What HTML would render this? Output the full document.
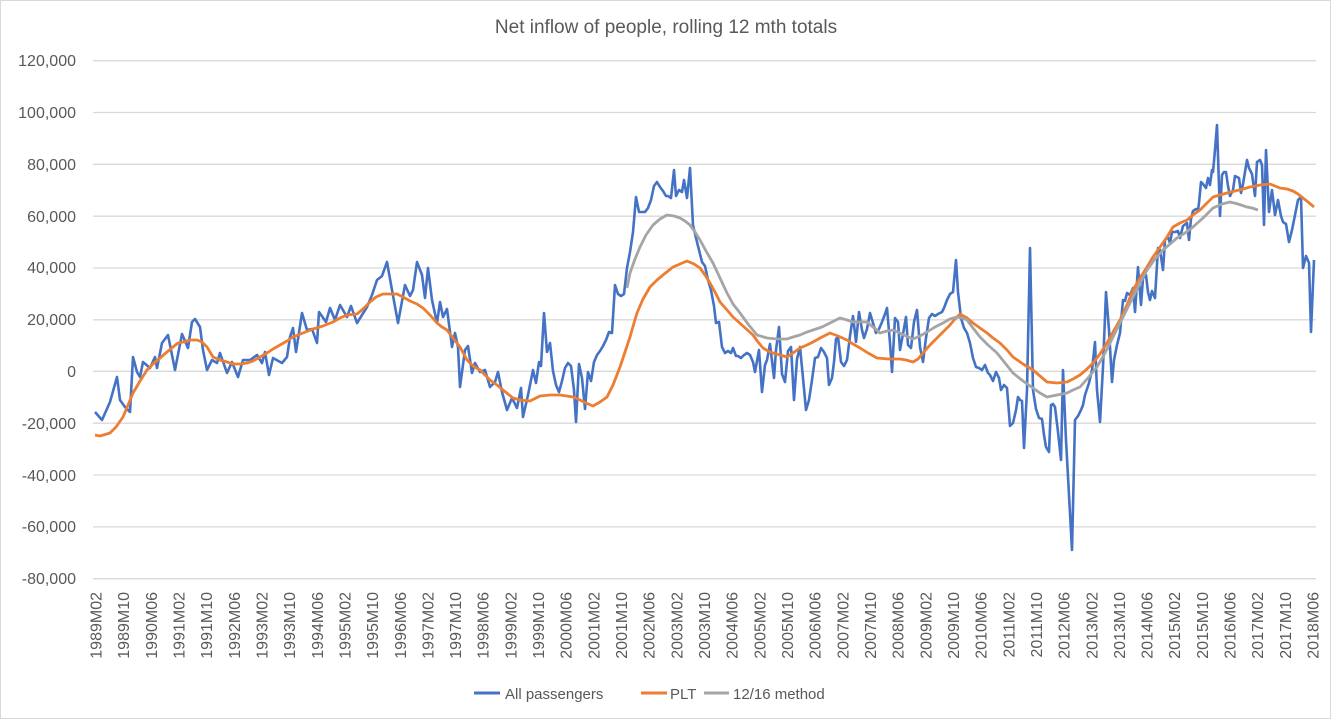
<!DOCTYPE html>
<html><head><meta charset="utf-8"><style>
body{margin:0;background:#fff}
svg{display:block;font-family:"Liberation Sans",Arial,sans-serif}
</style></head><body>
<svg width="1331" height="719" viewBox="0 0 1331 719" xmlns="http://www.w3.org/2000/svg">
<rect x="0.5" y="0.5" width="1330" height="718" fill="#fff" stroke="#d9d9d9"/>
<text x="666" y="33" text-anchor="middle" font-size="19" fill="#595959">Net inflow of people, rolling 12 mth totals</text>
<g stroke="#d9d9d9" stroke-width="1.3">
<line x1="93" x2="1316" y1="60.7" y2="60.7"/><line x1="93" x2="1316" y1="112.5" y2="112.5"/><line x1="93" x2="1316" y1="164.3" y2="164.3"/><line x1="93" x2="1316" y1="216.2" y2="216.2"/><line x1="93" x2="1316" y1="268" y2="268"/><line x1="93" x2="1316" y1="319.8" y2="319.8"/><line x1="93" x2="1316" y1="371.3" y2="371.3"/><line x1="93" x2="1316" y1="423.2" y2="423.2"/><line x1="93" x2="1316" y1="475" y2="475"/><line x1="93" x2="1316" y1="526.9" y2="526.9"/><line x1="93" x2="1316" y1="578.7" y2="578.7"/>
</g>
<g font-size="16" fill="#595959" text-anchor="end">
<text x="76" y="66">120,000</text><text x="76" y="118">100,000</text><text x="76" y="170">80,000</text><text x="76" y="222">60,000</text><text x="76" y="273">40,000</text><text x="76" y="325">20,000</text><text x="76" y="377">0</text><text x="76" y="429">-20,000</text><text x="76" y="481">-40,000</text><text x="76" y="532">-60,000</text><text x="76" y="584">-80,000</text>
</g>
<g font-size="16" fill="#595959" text-anchor="end">
<text transform="translate(101.5,592) rotate(-90)">1989M02</text>
<text transform="translate(129.2,592) rotate(-90)">1989M10</text>
<text transform="translate(156.8,592) rotate(-90)">1990M06</text>
<text transform="translate(184.5,592) rotate(-90)">1991M02</text>
<text transform="translate(212.1,592) rotate(-90)">1991M10</text>
<text transform="translate(239.8,592) rotate(-90)">1992M06</text>
<text transform="translate(267.5,592) rotate(-90)">1993M02</text>
<text transform="translate(295.1,592) rotate(-90)">1993M10</text>
<text transform="translate(322.8,592) rotate(-90)">1994M06</text>
<text transform="translate(350.4,592) rotate(-90)">1995M02</text>
<text transform="translate(378.1,592) rotate(-90)">1995M10</text>
<text transform="translate(405.8,592) rotate(-90)">1996M06</text>
<text transform="translate(433.4,592) rotate(-90)">1997M02</text>
<text transform="translate(461.1,592) rotate(-90)">1997M10</text>
<text transform="translate(488.7,592) rotate(-90)">1998M06</text>
<text transform="translate(516.4,592) rotate(-90)">1999M02</text>
<text transform="translate(544.1,592) rotate(-90)">1999M10</text>
<text transform="translate(571.7,592) rotate(-90)">2000M06</text>
<text transform="translate(599.4,592) rotate(-90)">2001M02</text>
<text transform="translate(627.0,592) rotate(-90)">2001M10</text>
<text transform="translate(654.7,592) rotate(-90)">2002M06</text>
<text transform="translate(682.4,592) rotate(-90)">2003M02</text>
<text transform="translate(710.0,592) rotate(-90)">2003M10</text>
<text transform="translate(737.7,592) rotate(-90)">2004M06</text>
<text transform="translate(765.3,592) rotate(-90)">2005M02</text>
<text transform="translate(793.0,592) rotate(-90)">2005M10</text>
<text transform="translate(820.7,592) rotate(-90)">2006M06</text>
<text transform="translate(848.3,592) rotate(-90)">2007M02</text>
<text transform="translate(876.0,592) rotate(-90)">2007M10</text>
<text transform="translate(903.6,592) rotate(-90)">2008M06</text>
<text transform="translate(931.3,592) rotate(-90)">2009M02</text>
<text transform="translate(959.0,592) rotate(-90)">2009M10</text>
<text transform="translate(986.6,592) rotate(-90)">2010M06</text>
<text transform="translate(1014.3,592) rotate(-90)">2011M02</text>
<text transform="translate(1041.9,592) rotate(-90)">2011M10</text>
<text transform="translate(1069.6,592) rotate(-90)">2012M06</text>
<text transform="translate(1097.3,592) rotate(-90)">2013M02</text>
<text transform="translate(1124.9,592) rotate(-90)">2013M10</text>
<text transform="translate(1152.6,592) rotate(-90)">2014M06</text>
<text transform="translate(1180.2,592) rotate(-90)">2015M02</text>
<text transform="translate(1207.9,592) rotate(-90)">2015M10</text>
<text transform="translate(1235.6,592) rotate(-90)">2016M06</text>
<text transform="translate(1263.2,592) rotate(-90)">2017M02</text>
<text transform="translate(1290.9,592) rotate(-90)">2017M10</text>
<text transform="translate(1318.5,592) rotate(-90)">2018M06</text>
</g>
<polyline fill="none" stroke="#4472c4" stroke-width="2.6" stroke-linejoin="round" points="95,412 102,420 110,402 117,377 120,400 125,407 130,412 133,357 137,372 140,377 143,362 150,368 155,357 157,368 162,343 168,335 175,370 182,334 188,348 192,322 195,319 200,327 203,350 207,370 212,360 217,363 220,353 227,373 232,362 238,377 243,360 250,360 257,355 262,363 265,352 269,375 273,358 282,363 287,357 290,337 293,328 296,352 302,313 307,330 312,329 317,343 319,312 326,322 330,308 335,320 340,305 347,317 351,306 357,323 367,307 372,295 377,280 382,276 387,262 392,290 398,323 405,285 410,296 413,290 417,262 422,275 425,298 428,268 432,300 437,323 440,302 443,317 447,309 452,347 455,333 458,347 460,387 465,350 468,346 472,373 475,363 480,372 485,370 490,387 495,382 498,372 502,392 507,410 512,398 517,408 521,388 523,417 528,395 533,370 536,383 539,362 541,366 544,313 547,352 550,343 553,371 556,385 559,392 562,381 565,368 568,363 571,366 574,390 576,422 579,364 582,378 585,409 588,372 591,381 594,362 597,355 600,351 603,346 606,340 609,332 612,333 615,285 618,294 621,296 624,294 627,268 630,252 633,232 636,197 639,212 642,212 645,212 648,208 651,200 654,186 657,182 660,187 663,191 666,196 668,196 671,198 674,170 676,196 679,190 682,192 684,180 687,198 690,168 693,225 696,238 699,250 702,262 705,266 708,280 711,290 714,306 716,323 719,322 722,347 725,353 728,351 731,353 733,348 736,356 738,356 741,358 744,355 747,353 750,355 753,362 755,372 759,350 762,392 765,365 767,360 770,344 774,378 776,350 779,327 782,374 785,382 788,351 791,347 794,400 797,359 800,347 803,378 806,410 809,400 812,380 815,358 818,357 821,348 824,352 827,358 829,385 832,378 834,362 836,339 838,337 841,362 844,366 847,360 850,336 853,316 856,342 859,312 862,330 864,338 867,329 870,313 873,323 876,333 879,329 882,322 885,314 887,308 890,343 892,372 895,318 898,322 900,350 903,334 906,317 908,345 911,348 914,322 917,310 920,347 923,362 926,338 929,318 932,314 935,316 938,314 940,313 942,312 944,308 947,300 950,294 953,292 956,260 958,292 961,318 964,328 967,333 970,343 973,358 976,367 979,368 982,370 985,365 988,373 990,375 993,381 996,372 999,378 1001,390 1004,385 1007,388 1010,426 1013,423 1016,410 1018,397 1020,400 1022,401 1024,448 1027,390 1030,248 1033,390 1036,409 1039,418 1042,419 1044,435 1046,447 1049,452 1051,405 1053,404 1055,407 1058,432 1061,460 1063,370 1066,440 1069,495 1072,550 1075,420 1078,416 1081,410 1083,405 1085,395 1089,383 1092,370 1095,342 1097,390 1100,422 1103,367 1106,292 1109,330 1112,382 1114,360 1117,345 1120,333 1123,300 1125,301 1127,293 1130,295 1133,288 1135,312 1138,267 1141,305 1143,278 1146,275 1148,292 1150,300 1152,291 1155,298 1158,248 1160,250 1163,270 1165,240 1168,237 1170,243 1172,232 1175,232 1178,231 1180,238 1183,226 1187,223 1189,240 1191,219 1193,211 1196,209 1198,210 1199,203 1201,182 1203,184 1206,188 1208,178 1210,185 1212,170 1213,172 1215,150 1217,125 1220,216 1222,175 1224,172 1226,172 1228,186 1230,196 1233,190 1235,176 1239,178 1241,193 1243,184 1245,172 1247,160 1249,168 1252,174 1255,196 1257,162 1260,160 1262,165 1264,225 1266,150 1269,212 1272,190 1275,215 1278,200 1281,216 1283,222 1286,224 1289,242 1292,230 1295,215 1298,200 1301,197 1303,268 1306,256 1309,263 1311,332 1314,260"/>
<polyline fill="none" stroke="#ed7d31" stroke-width="2.8" stroke-linejoin="round" points="95,435 100,436 110,433 116,427 123,417 128,405 133,393 140,381 147,370 153,364 160,358 167,352 173,347 178,343 183,342 190,340 197,340 202,342 207,347 213,357 220,360 227,362 233,364 240,364 247,363 253,361 260,357 267,353 273,349 280,345 287,341 293,337 303,333 313,329 323,326 333,322 340,318 347,315 357,314 363,309 370,302 376,297 383,294 390,294 397,294 403,297 410,301 417,304 423,308 430,315 437,323 442,327 447,330 453,338 460,347 467,360 473,366 480,370 485,375 490,380 497,385 503,390 513,398 520,400 530,401 540,396 550,395 560,395 567,396 573,397 580,400 586,403 593,406 600,402 607,397 613,385 620,367 625,352 630,337 634,323 637,313 643,299 650,287 657,280 663,275 668,271 673,267 680,264 687,261 694,264 700,268 705,275 710,283 715,292 720,302 727,310 733,317 743,326 753,335 758,342 763,348 768,351 773,353 780,355 787,357 793,353 800,348 807,345 813,342 822,337 830,333 838,336 847,340 853,344 860,348 868,353 877,358 888,359 900,359 906,360 913,362 918,359 923,353 930,345 937,338 944,331 950,325 955,319 960,314 967,318 973,323 980,328 987,333 993,338 1000,343 1007,350 1013,357 1023,364 1033,370 1040,376 1047,382 1057,383 1067,382 1073,379 1080,375 1087,369 1093,363 1100,354 1107,343 1113,332 1120,320 1127,305 1133,290 1140,278 1147,267 1153,257 1160,247 1167,237 1173,227 1180,223 1187,220 1193,215 1200,210 1207,203 1213,197 1220,195 1227,193 1235,191 1243,189 1250,187 1260,185 1270,184 1275,186 1280,188 1287,189 1293,191 1298,194 1303,198 1308,202 1314,207"/>
<polyline fill="none" stroke="#a5a5a5" stroke-width="2.8" stroke-linejoin="round" points="627,288 630,273 635,259 640,247 646,235 653,225 660,219 667,215 674,216 680,218 685,221 690,225 695,232 700,240 706,251 713,263 720,278 727,293 733,304 740,313 748,324 757,335 767,338 777,339 787,339 793,337 800,335 807,332 813,330 822,327 830,323 840,318 847,320 853,322 860,322 867,322 873,327 880,333 887,331 893,330 900,333 906,336 913,339 920,336 927,332 935,327 943,323 950,319 957,317 962,318 967,320 973,328 980,337 988,345 997,353 1005,363 1013,373 1023,381 1033,388 1040,393 1047,397 1057,395 1067,393 1073,390 1080,387 1088,378 1097,367 1105,353 1113,337 1123,317 1133,297 1140,283 1147,270 1155,259 1163,250 1170,244 1177,238 1185,233 1193,227 1203,218 1213,208 1222,204 1230,202 1238,204 1247,207 1252,208 1258,210"/>
<g font-size="15" fill="#595959">
<line x1="474" x2="500" y1="693" y2="693" stroke="#4472c4" stroke-width="3"/><text x="505" y="699">All passengers</text>
<line x1="641" x2="667" y1="693" y2="693" stroke="#ed7d31" stroke-width="3"/><text x="670" y="699">PLT</text>
<line x1="704" x2="729" y1="693" y2="693" stroke="#a5a5a5" stroke-width="3"/><text x="733" y="699">12/16 method</text>
</g>
</svg>
</body></html>
